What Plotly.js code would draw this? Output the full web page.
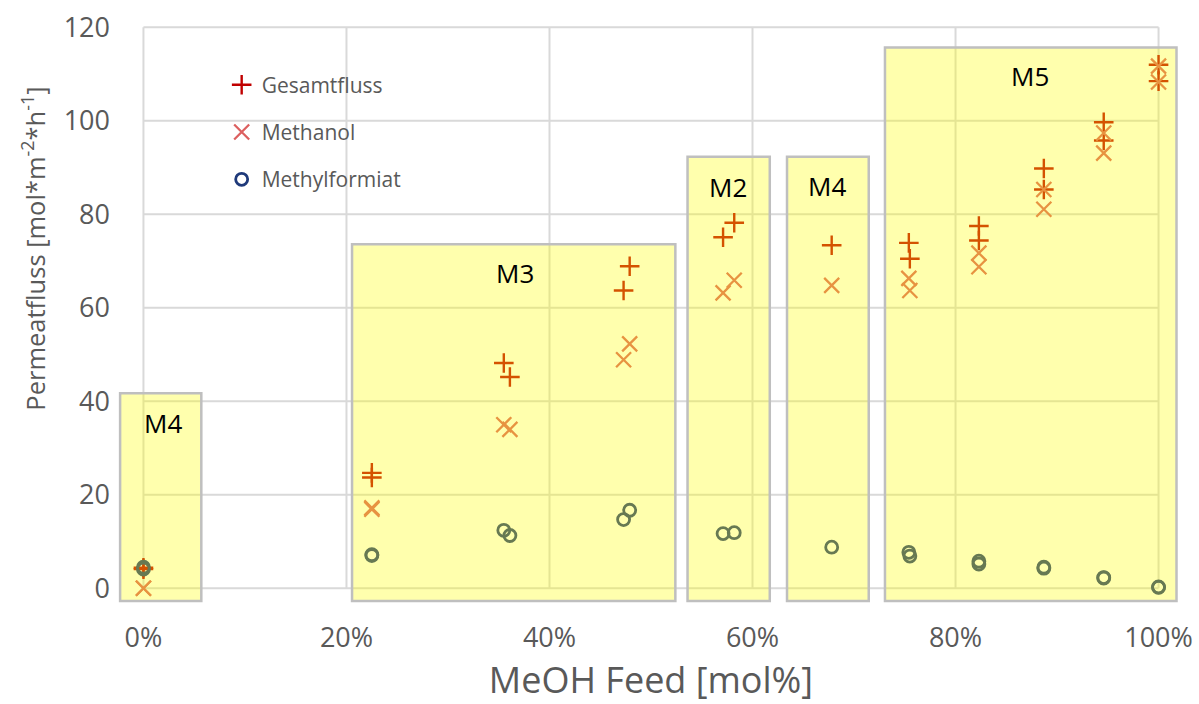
<!DOCTYPE html>
<html>
<head>
<meta charset="utf-8">
<script src="https://cdn.plot.ly/plotly-3.0.1.min.js"></script>
<style>html,body{margin:0;padding:0;background:#fff;}#chart{width:1199px;height:704px;}</style>
</head>
<body>
<div id="chart"></div>
<script>
// MeOH feed fraction of each measurement
const feed = [0, 0, 0.225, 0.225, 0.355, 0.361, 0.473, 0.479, 0.571, 0.582, 0.678,
              0.754, 0.755, 0.823, 0.823, 0.887, 0.887, 0.946, 0.946, 1.0, 1.0];
// permeate fluxes [mol m^-2 h^-1]
const gesamtfluss = [4.4, 4.1, 24.7, 23.7, 48.2, 45.2, 63.7, 68.9, 75.1, 78.2, 73.4,
                     73.9, 70.5, 77.5, 74.4, 89.8, 85.3, 99.7, 95.8, 112.0, 108.5];
const methanol = [0, 0, 17.2, 16.9, 35.0, 34.0, 48.9, 52.3, 63.2, 65.9, 64.8,
                  66.3, 63.7, 71.7, 68.8, 85.3, 81.1, 97.4, 93.1, 111.7, 108.3];
const methylformiat = [4.5, 4.1, 7.2, 7.0, 12.4, 11.3, 14.7, 16.7, 11.7, 11.9, 8.8,
                       7.7, 6.9, 5.8, 5.2, 4.5, 4.3, 2.3, 2.2, 0.3, 0.2];

// membrane boxes
const boxLabels = ['M4', 'M3', 'M2', 'M4', 'M5'];
const boxX0 = [-0.023, 0.2055, 0.536, 0.634, 0.7305];
const boxX1 = [0.057, 0.524, 0.617, 0.7145, 1.0177];
const boxTop = [41.7, 73.6, 92.3, 92.3, 115.7];
const boxBottom = -2.7;
const labelX = [0.0197, 0.366, 0.576, 0.6736, 0.873];
const labelY = [35.3, 67.4, 85.8, 86.0, 109.5];

const xTicks = [0, 0.2, 0.4, 0.6, 0.8, 1.0];
const yTicks = [0, 20, 40, 60, 80, 100, 120];

const FONT = 'Open Sans, sans-serif';
const GRAY = '#595959';

const traces = [
  {x: feed, y: gesamtfluss, name: 'Gesamtfluss', type: 'scatter', mode: 'markers',
   legendgroup: 'a',
   marker: {symbol: 'cross-thin-open', size: 14, color: '#C00000', line: {color: '#C00000', width: 2.4}}},
  {x: feed, y: methanol, name: 'Methanol', type: 'scatter', mode: 'markers',
   legendgroup: 'b',
   marker: {symbol: 'x-thin-open', size: 15, color: '#DC6060', line: {color: '#DC6060', width: 2.3}}},
  {x: feed, y: methylformiat, name: 'Methylformiat', type: 'scatter', mode: 'markers',
   legendgroup: 'c',
   marker: {symbol: 'circle-open', size: 12, color: '#1F3A7A', line: {color: '#1F3A7A', width: 2.8}}}
];

const shapes = [];
yTicks.forEach(v => shapes.push({type: 'line', xref: 'x', yref: 'y', x0: 0, x1: 1, y0: v, y1: v,
  layer: 'below', line: {color: '#D9D9D9', width: 2}}));
xTicks.forEach(v => shapes.push({type: 'line', xref: 'x', yref: 'y', x0: v, x1: v, y0: 0, y1: 120,
  layer: 'below', line: {color: '#D9D9D9', width: 2}}));
boxLabels.forEach((l, i) => shapes.push({type: 'rect', xref: 'x', yref: 'y',
  x0: boxX0[i], x1: boxX1[i], y0: boxBottom, y1: boxTop[i], layer: 'above',
  fillcolor: 'rgba(255,255,0,0.32)', line: {color: '#BFBFBF', width: 2.5}}));

const annotations = boxLabels.map((l, i) => ({x: labelX[i], y: labelY[i], xref: 'x', yref: 'y',
  text: l, showarrow: false, font: {family: FONT, size: 26, color: '#000'}}));
annotations.push({xref: 'paper', yref: 'paper', x: -0.074, y: 0.609, xanchor: 'center', yanchor: 'middle',
  textangle: -90, showarrow: false,
  text: 'Permeatfluss [mol*m<sup>-2</sup>*h<sup>-1</sup>]',
  font: {family: FONT, size: 25.5, color: GRAY}});

const layout = {
  width: 1199, height: 704,
  margin: {l: 112.5, r: 10, t: 17.6, b: 97.4},
  paper_bgcolor: '#fff', plot_bgcolor: '#fff',
  showlegend: true,
  legend: {x: 0.101, y: 0.921, xanchor: 'left', yanchor: 'top', bgcolor: 'rgba(0,0,0,0)',
    traceorder: 'grouped', tracegroupgap: 17, itemwidth: 30,
    font: {family: FONT, size: 21, color: GRAY}},
  xaxis: {range: [-0.03, 1.03], tickvals: xTicks, tickformat: '.0%', showgrid: false, zeroline: false,
    showline: false, ticks: '', ticklabelstandoff: 12,
    tickfont: {family: FONT, size: 27, color: GRAY},
    title: {text: 'MeOH Feed [mol%]', font: {family: FONT, size: 36, color: GRAY}, standoff: 10}},
  yaxis: {range: [-4, 122], tickvals: yTicks, showgrid: false, zeroline: false, showline: false,
    ticks: '', ticklabelstandoff: 2,
    tickfont: {family: FONT, size: 27, color: GRAY}},
  shapes: shapes,
  annotations: annotations
};

Plotly.newPlot('chart', traces, layout, {displayModeBar: false, responsive: false});
</script>
</body>
</html>
